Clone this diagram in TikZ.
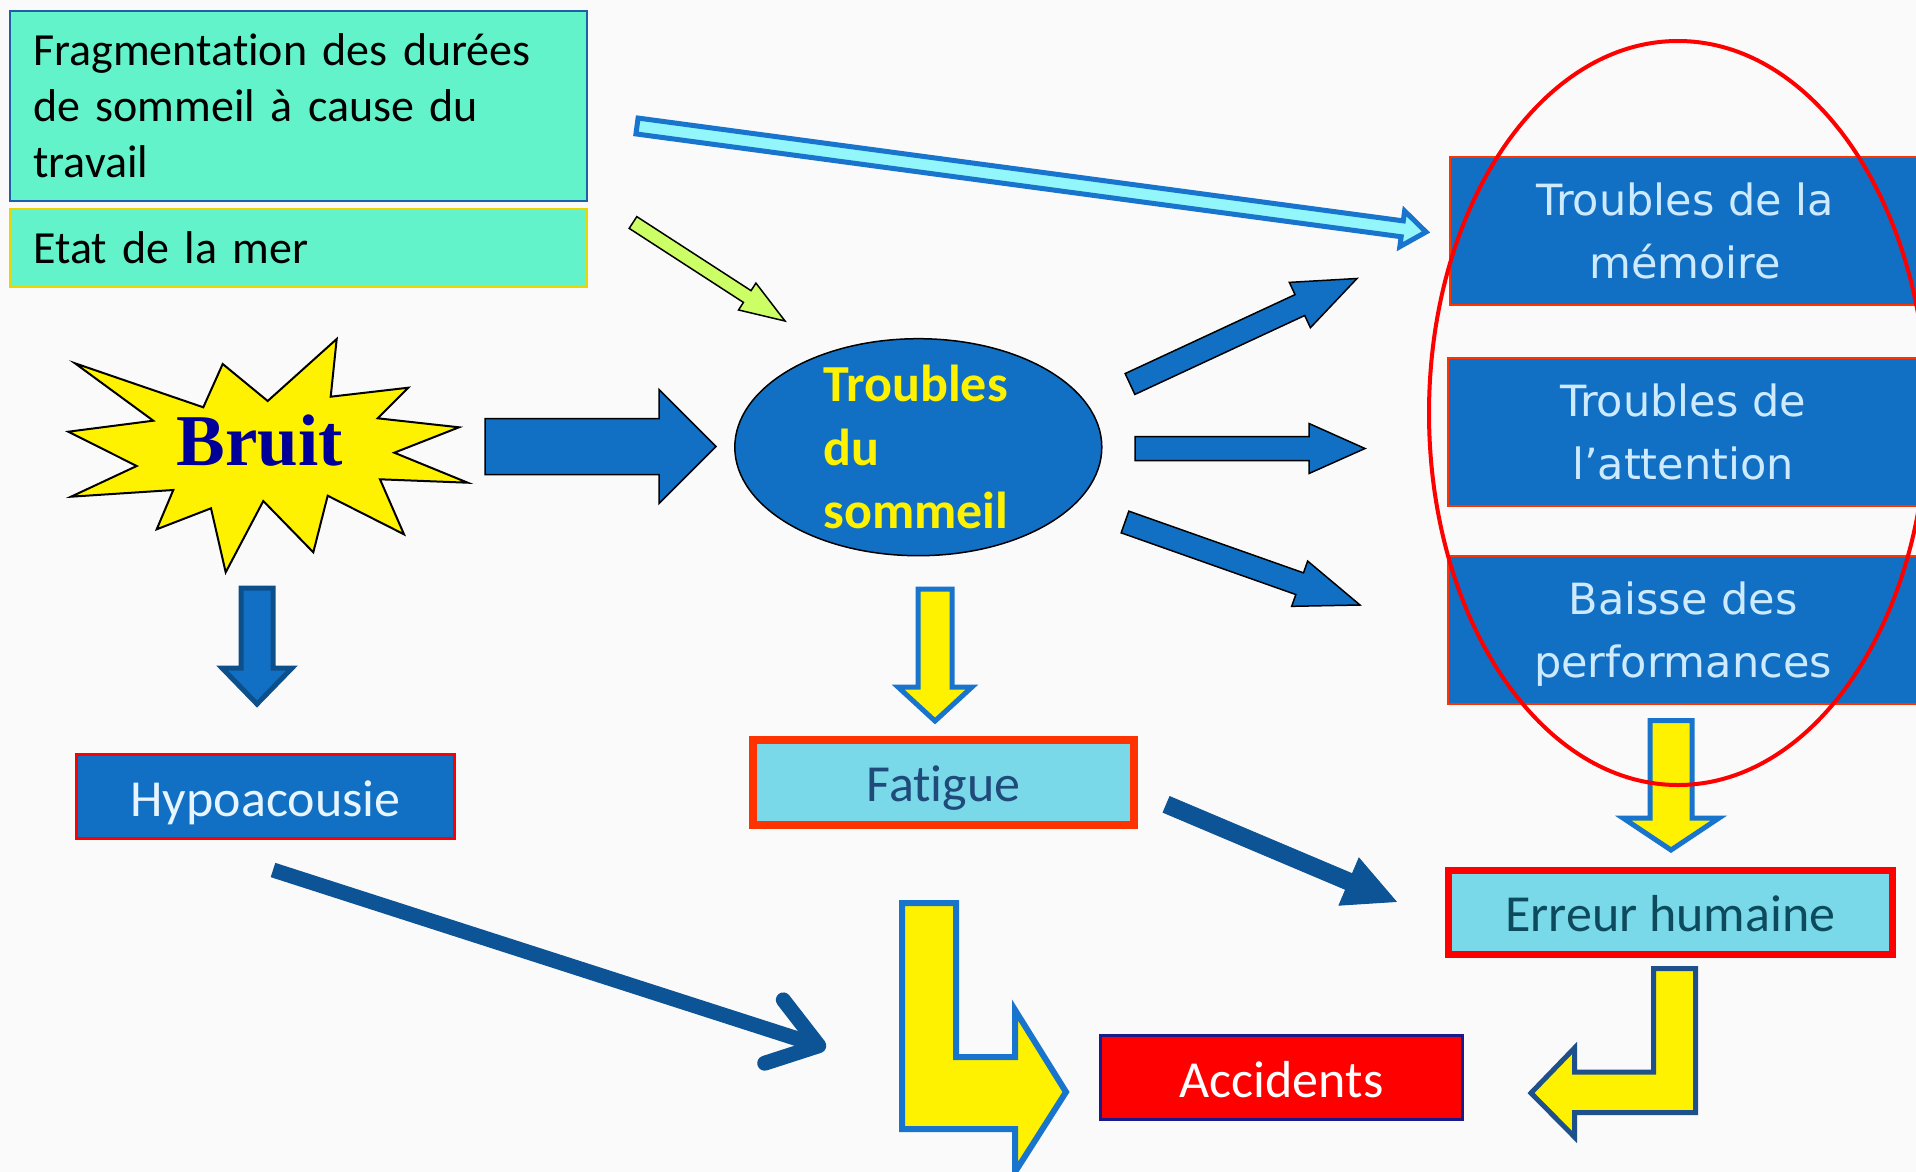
\documentclass[tikz,border=0pt]{standalone}
\usepackage{fontspec}
\setmainfont{Carlito}[Ligatures=NoCommon]
\newfontfamily\dejavu{DejaVu Sans}
\newfontfamily\libserif{Liberation Serif}
\usetikzlibrary{calc,shapes.geometric}
\definecolor{teal1}{RGB}{98,243,202}
\definecolor{mblue}{RGB}{18,112,196}
\definecolor{dblue}{RGB}{12,84,150}
\definecolor{dblueb}{RGB}{13,79,139}
\definecolor{lcyan}{RGB}{122,217,232}
\definecolor{pale}{RGB}{146,246,250}
\definecolor{ygreen}{RGB}{204,255,102}
\definecolor{bordblue}{RGB}{24,116,205}
\definecolor{txtblue}{RGB}{205,234,255}
\definecolor{hypotxt}{RGB}{230,245,255}
\definecolor{fatiguetxt}{RGB}{31,74,122}
\definecolor{erreurtxt}{RGB}{14,74,94}
\definecolor{bruittxt}{RGB}{0,0,153}
\definecolor{orangered}{RGB}{255,51,0}
\definecolor{navytwo}{RGB}{26,26,140}
\definecolor{frameblue}{RGB}{31,95,168}
\definecolor{yellowb}{RGB}{235,215,0}
\definecolor{bgcol}{RGB}{250,250,250}
\definecolor{lbordblue}{RGB}{30,80,140}
\newcommand{\blockarrow}[6]{%
  \coordinate (bah) at ($(#3)!#6!(#2)$);
  \draw[#1] ($(#2)!#4!90:(#3)$) -- ($(bah)!#4!90:(#3)$) -- ($(bah)!#5!90:(#3)$) -- (#3)
    -- ($(bah)!#5!-90:(#3)$) -- ($(bah)!#4!-90:(#3)$) -- ($(#2)!#4!-90:(#3)$) -- cycle;}
\begin{document}
\begin{tikzpicture}[x=1pt,y=-1pt,
  tealbox/.style={fill=teal1, line width=2.5, font=\fontsize{46}{56}\selectfont, align=left, inner sep=0, text=black, text width=530},
  rbox/.style={fill=mblue, draw=orangered, line width=2, font=\dejavu\fontsize{43}{63}\selectfont, text=txtblue, align=center, minimum width=470, minimum height=148, inner sep=0, text depth=0pt},
  ctext/.style={inner sep=0, font=\fontsize{52}{60}\selectfont, text height=39.5pt, text depth=0pt},
  blarrow/.style={fill=mblue, draw=black, line width=1.5, line join=miter},
  yarrow/.style={fill=yellow, draw=bordblue, line width=5, line join=miter},
]
\useasboundingbox (0,0) rectangle (1916,1172);
\fill[bgcol] (0,0) rectangle (1916,1172);

% left boxes
\node[tealbox, draw=frameblue, minimum width=577, minimum height=190] (frag) at (298.25,106) {Fragmentation des durées\\de sommeil à cause du\\travail};
\node[tealbox, draw=yellowb, minimum width=577, minimum height=78] (etat) at (298.25,248) {Etat de la mer};

% Bruit star
\draw[fill=yellow, draw=black, line width=2, line join=miter]
 (75,363.3) -- (203.3,407.3) -- (222.7,364) -- (267.7,401) -- (336.7,339) -- (330.7,396.7)
 -- (408.3,387.7) -- (377.7,418.3) -- (459,427.3) -- (394.3,452.7) -- (467.7,482.7)
 -- (380,479.3) -- (404,534.3) -- (327.7,495.7) -- (313.3,552.3) -- (263.3,501)
 -- (225.7,572.3) -- (211,508.3) -- (156.7,529.3) -- (173.3,490) -- (71,496.7)
 -- (136.7,466) -- (68.3,431.7) -- (153.3,420.7) -- cycle;
\node[font=\libserif\bfseries\fontsize{73}{80}\selectfont, text=bruittxt, anchor=base, inner sep=0] (bruit) at (260,465.7) {Bruit};

% ellipse
\node[ellipse, fill=mblue, draw=black, line width=1.5, minimum width=367, minimum height=217, inner sep=0] (sleep) at (918.3,447.2) {};
\node[inner sep=0, text width=190, align=left, text=yellow, font=\bfseries\fontsize{52}{63.3}\selectfont] (sleeplbl) at (sleep.center) {Troubles\\du\\sommeil};

% right boxes
\node[rbox] (mem) at (1685,231) {Troubles de la\\mémoire};
\node[rbox] (att) at (1683,432) {Troubles de\\l’attention};
\node[rbox] (perf) at (1683,630) {Baisse des\\performances};

% middle boxes
\node[ctext, fill=mblue, draw=red, line width=3, minimum width=378, minimum height=83.5, text=hypotxt] (hypo) at (265.5,796.25) {Hypoacousie};
\node[ctext, fill=lcyan, draw=orangered, line width=8, minimum width=381, minimum height=85, text=fatiguetxt] (fatigue) at (943.5,782) {Fatigue};
\node[ctext, fill=lcyan, draw=red, line width=7, minimum width=443.5, minimum height=84, text=erreurtxt] (erreur) at (1670.25,912.2) {Erreur humaine};
\node[ctext, fill=red, draw=navytwo, line width=3, minimum width=362, minimum height=83.7, text=white] (acc) at (1281.5,1077.35) {Accidents};

% arrow coordinates
\coordinate (a1s) at (637,126);   \coordinate (a1e) at (1426,232);
\coordinate (a2s) at (633,222.5); \coordinate (a2e) at (785,321);
\coordinate (a3s) at (485,446.5); \coordinate (a3e) at (716,446.5);
\coordinate (a4s) at (1130,384);  \coordinate (a4e) at (1357,278.5);
\coordinate (a5s) at (1135,448.5);\coordinate (a5e) at (1365,448.5);
\coordinate (a6s) at (1125,522);  \coordinate (a6e) at (1360,605);
\coordinate (a7s) at (1166.5,804.5); \coordinate (a7e) at (1396,901.5);
\coordinate (a9s) at (257,588);   \coordinate (a9e) at (257,704);
\coordinate (a10s) at (935,589);  \coordinate (a10e) at (935,721);
\coordinate (a11s) at (1671,720.5); \coordinate (a11e) at (1671,850);

\blockarrow{fill=pale, draw=bordblue, line width=5, line join=miter}{a1s}{a1e}{8pt}{18pt}{24pt}
\blockarrow{fill=ygreen, draw=black, line width=1.5, line join=miter}{a2s}{a2e}{7pt}{16pt}{45pt}
\blockarrow{blarrow}{a3s}{a3e}{28pt}{57pt}{57pt}
\blockarrow{blarrow}{a4s}{a4e}{11.5pt}{25pt}{63pt}
\blockarrow{blarrow}{a5s}{a5e}{12pt}{25pt}{56pt}
\blockarrow{blarrow}{a6s}{a6e}{11.5pt}{24pt}{64pt}
\blockarrow{fill=dblue, draw=dblue, line width=1, line join=miter}{a7s}{a7e}{8.5pt}{25.5pt}{51pt}
\blockarrow{fill=mblue, draw=dblueb, line width=5, line join=miter}{a9s}{a9e}{16pt}{35pt}{36pt}
\blockarrow{yarrow}{a10s}{a10e}{17pt}{37pt}{34pt}
\blockarrow{yarrow}{a11s}{a11e}{21pt}{48pt}{32pt}

% Hypoacousie -> Accidents line arrow
\coordinate (h1) at (273,870); \coordinate (h2) at (818.8,1045.7);
\coordinate (h3) at (783.3,999.9); \coordinate (h4) at (764.7,1063.2);
\draw[dblue, line width=15, line cap=butt] (h1) -- (h2);
\draw[dblue, line width=15, line cap=round, line join=round] (h3) -- (h2) -- (h4);

% L-shaped yellow arrows
\draw[yarrow, line width=6] (902,903) -- (956,903) -- (956,1057) -- (1015,1057) -- (1015,1010)
  -- (1066,1092) -- (1015,1172) -- (1015,1129) -- (902,1129) -- cycle;
\draw[fill=yellow, draw=lbordblue, line width=5, line join=miter] (1695.5,968.5) -- (1653.5,968.5) -- (1653.5,1072) -- (1574.5,1072)
  -- (1574.5,1048) -- (1531,1093) -- (1574.5,1137) -- (1574.5,1112.5) -- (1695.5,1112.5) -- cycle;

% red ring
\node[ellipse, draw=red, line width=4, minimum width=498, minimum height=744, inner sep=0] (ring) at (1678,413) {};
\end{tikzpicture}
\end{document}
